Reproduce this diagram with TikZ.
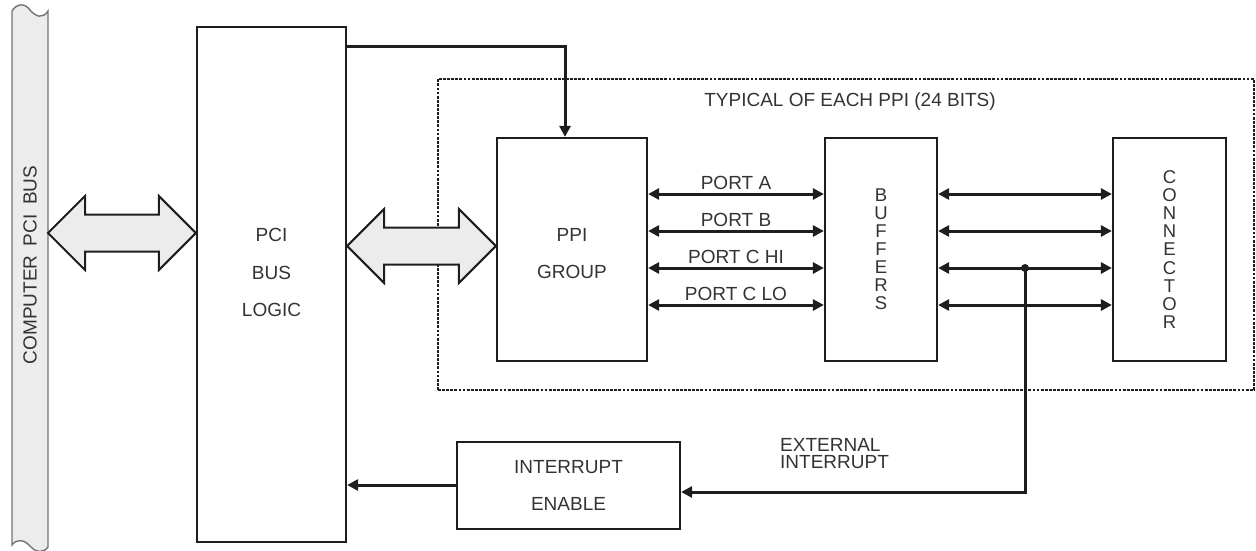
\documentclass[tikz,border=0pt]{standalone}
\usepackage{fontspec}
\setmainfont{Liberation Sans}
\usetikzlibrary{arrows.meta,calc}
\definecolor{busgray}{HTML}{ECECEC}
\definecolor{ink}{HTML}{1E1E1E}
\definecolor{txtgray}{HTML}{333333}
\tikzstyle{blk}=[draw=ink,line width=2.2pt,inner sep=0pt]
\tikzstyle{lbl}=[text=txtgray,font=\fontsize{19}{21}\selectfont]
\tikzstyle{dotbox}=[draw=ink,line width=2.6pt,dash pattern=on 2.8pt off 1.3pt]
\tikzstyle{wire}=[draw=ink,line width=3pt]
\tikzstyle{port}=[wire,{Triangle[length=11pt,width=11pt]}-{Triangle[length=11pt,width=11pt]}]
\tikzstyle{fat}=[fill=busgray,draw=ink,line width=2pt,line join=miter]
\tikzstyle{busbar}=[fill=busgray,draw=black!55,line width=1.4pt]
\newcommand{\fatarrow}[2]{%
  \draw[fat] (#1) -- ++(37,-37) -- ++(0,18.5) -- ($(#2)+(-37,-18.5)$) -- ++(0,-18.5) -- (#2)
    -- ++(-37,37) -- ++(0,-18.5) -- ($(#1)+(37,18.5)$) -- ++(0,18.5) -- cycle;}

\begin{document}
\begin{tikzpicture}[x=1pt,y=-1pt]
\useasboundingbox (0,0) rectangle (1256,550);

% computer bus
\filldraw[busbar] (12,11) .. controls (17,3) and (25,3) .. (30,10) .. controls (36,17) and (43,19) .. (48,11)
  -- (48,547) .. controls (44,553) and (36,553) .. (30,546) .. controls (24,539) and (16,539) .. (12,545) -- cycle;
\node[lbl,rotate=90] (bus) at (30,265) {COMPUTER\hspace{0.5em}PCI\hspace{0.5em}BUS};
\coordinate (busR) at (48,233);

% boxes
\node[blk,minimum width=149pt,minimum height=515pt] (pci) at (271.5,284.5) {};
\node[lbl,align=center,font=\fontsize{19}{37.5}\selectfont] (pcitxt) at ([yshift=12pt]pci.center) {PCI\\BUS\\LOGIC};

\node[dotbox,minimum width=816pt,minimum height=311pt] (typ) at (846,234.5) {};
\node[lbl] (typtxt) at (850,102) {TYPICAL OF EACH PPI (24 BITS)};

\node[blk,minimum width=150pt,minimum height=223pt] (ppi) at (572,249.5) {};
\node[lbl,align=center,font=\fontsize{19}{37.5}\selectfont] (ppitxt) at ([yshift=-4pt]ppi.center) {PPI\\GROUP};
\node[blk,lbl,minimum width=112pt,minimum height=223pt,align=center,font=\fontsize{18.5}{18}\selectfont] (buf) at (881,249.5) {B\\U\\F\\F\\E\\R\\S};
\node[blk,lbl,minimum width=113pt,minimum height=223pt,align=center,font=\fontsize{18.5}{18.2}\selectfont] (con) at (1169.5,249.5) {C\\O\\N\\N\\E\\C\\T\\O\\R};

\node[blk,lbl,minimum width=223pt,minimum height=87pt,align=center,font=\fontsize{19}{37}\selectfont] (irq) at (568.5,485.5) {INTERRUPT\\ENABLE};

% connections
\fatarrow{busR}{pci.west |- 0,233}
\fatarrow{pci.east |- 0,246}{ppi.west |- 0,246}
\draw[wire,-{Triangle[length=11pt,width=11pt]}] (pci.east |- 0,46) -| ([xshift=-7pt]ppi.north);

\foreach \yy/\portname [count=\i] in {194/PORT A,231/PORT B,268/PORT C HI,305/PORT C LO}{
  \draw[port] (ppi.east |- 0,\yy) -- node[lbl,above,inner sep=2.5pt] (p\i) {\portname} (buf.west |- 0,\yy);
  \draw[port] (buf.east |- 0,\yy) -- (con.west |- 0,\yy);
}

\coordinate (tap) at ($(buf.east |- 0,268)!0.5!(con.west |- 0,268)$);
\fill[ink] (tap) circle (4pt);
\coordinate (turn) at (tap |- 0,492);
\draw[wire,-{Triangle[length=11pt,width=11pt]}] (tap) -- (turn) -- (irq.east |- turn);
\draw[wire,-{Triangle[length=11pt,width=11pt]}] (irq.west |- 0,485) -- (pci.east |- 0,485);
\node[lbl,align=left,anchor=west,inner sep=0pt,font=\fontsize{19}{17}\selectfont] (ext) at (780,453.5) {EXTERNAL\\INTERRUPT};
\end{tikzpicture}
\end{document}
